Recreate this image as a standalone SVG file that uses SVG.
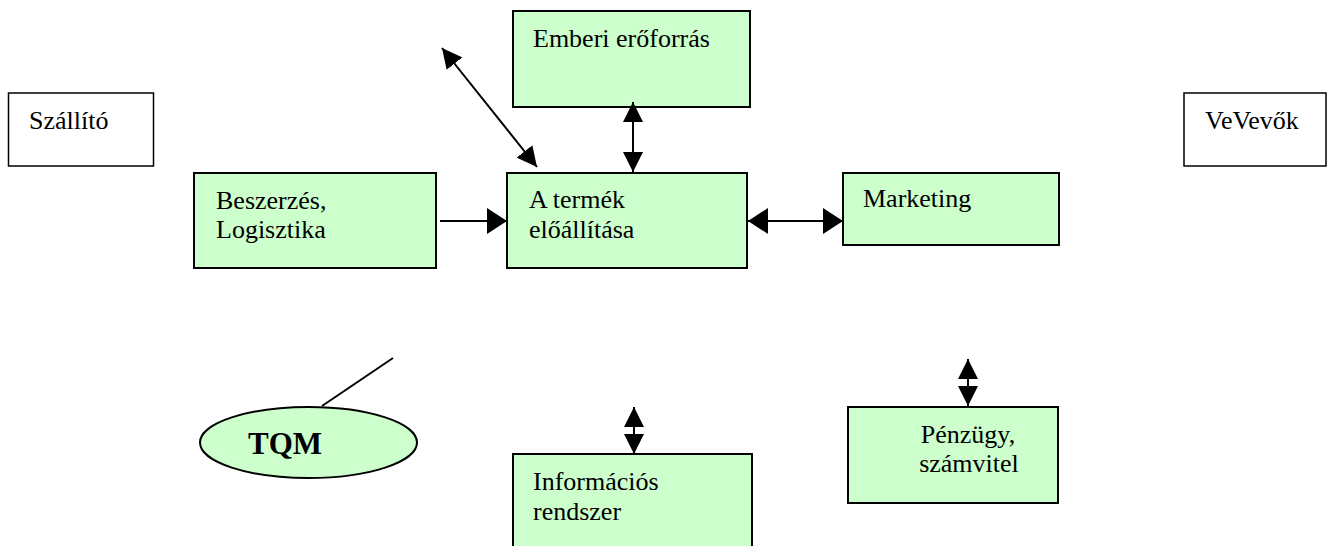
<svg xmlns="http://www.w3.org/2000/svg" width="1335" height="546" viewBox="0 0 1335 546">
  <defs>
    <style>
      .box { fill: #ccffcc; stroke: #000; stroke-width: 2; }
      .plain { fill: #fff; stroke: #000; stroke-width: 1.5; }
      .lbl { font-family: "Liberation Serif", "Times New Roman", serif; font-size: 26px; fill: #000; }
      .mid { text-anchor: middle; }
      .big { font-size: 31px; font-weight: bold; }
      .edge { fill: none; stroke: #000; stroke-width: 2; }
    </style>
    <marker id="head" viewBox="0 0 20 20" refX="20" refY="10" markerWidth="20" markerHeight="20" markerUnits="userSpaceOnUse" orient="auto-start-reverse">
      <path d="M0,0 L20,10 L0,20 Z" fill="#000"/>
    </marker>
    <marker id="headWide" viewBox="0 0 20 26" refX="20" refY="13" markerWidth="20" markerHeight="26" markerUnits="userSpaceOnUse" orient="auto-start-reverse">
      <path d="M0,0 L20,13 L0,26 Z" fill="#000"/>
    </marker>
  </defs>

  <g id="szallito">
    <rect class="plain" x="8.5" y="93" width="145" height="73"/>
    <text class="lbl" x="29" y="129">Szállító</text>
  </g>

  <g id="vevok">
    <rect class="plain" x="1184" y="93" width="142" height="73"/>
    <text class="lbl" x="1205" y="129">VeVevők</text>
  </g>

  <g id="emberi">
    <rect class="box" x="513" y="11" width="237" height="96"/>
    <text class="lbl" x="533" y="47">Emberi erőforrás</text>
  </g>

  <g id="beszerzes">
    <rect class="box" x="194" y="173" width="242" height="95"/>
    <text class="lbl" x="216" y="209">Beszerzés,</text>
    <text class="lbl" x="216" y="238">Logisztika</text>
  </g>

  <g id="termek">
    <rect class="box" x="507" y="173" width="240" height="95"/>
    <text class="lbl" x="529" y="208">A termék</text>
    <text class="lbl" x="529" y="238">előállítása</text>
  </g>

  <g id="marketing">
    <rect class="box" x="843" y="173" width="216" height="72"/>
    <text class="lbl" x="863" y="207">Marketing</text>
  </g>

  <g id="tqm">
    <ellipse class="box" cx="308.5" cy="442.5" rx="108.5" ry="35.5"/>
    <text class="lbl big" x="248" y="454">TQM</text>
  </g>

  <g id="informacios">
    <rect class="box" x="513" y="454" width="239" height="100"/>
    <text class="lbl" x="533" y="490">Információs</text>
    <text class="lbl" x="533" y="520">rendszer</text>
  </g>

  <g id="penzugy">
    <rect class="box" x="848" y="407" width="210" height="96"/>
    <text class="lbl mid" x="968" y="443">Pénzügy,</text>
    <text class="lbl mid" x="969" y="472">számvitel</text>
  </g>

  <g id="connectors">
    <path class="edge" d="M442,48 L537,167" marker-start="url(#head)" marker-end="url(#head)"/>
    <path class="edge" d="M633,102 L633,172" marker-start="url(#head)" marker-end="url(#head)"/>
    <path class="edge" d="M440,221 L507,221" marker-end="url(#headWide)"/>
    <path class="edge" d="M748,221 L843,221" marker-start="url(#headWide)" marker-end="url(#headWide)"/>
    <path class="edge" d="M968,359 L968,406" marker-start="url(#head)" marker-end="url(#head)"/>
    <path class="edge" d="M634,407 L634,454" marker-start="url(#head)" marker-end="url(#head)"/>
    <path class="edge" d="M322,406 L393,358"/>
  </g>
</svg>
